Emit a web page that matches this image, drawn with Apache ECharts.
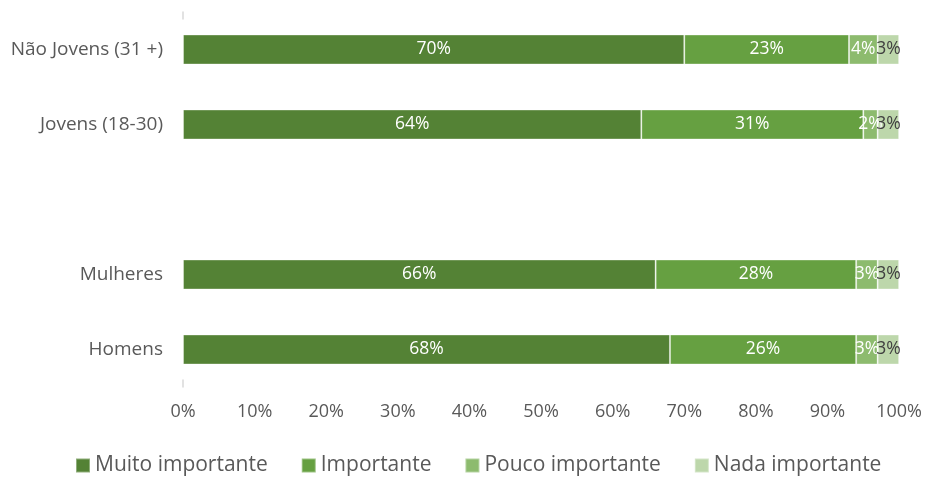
<!DOCTYPE html>
<html>
<head>
<meta charset="utf-8">
<script src="https://cdn.jsdelivr.net/npm/echarts@6/dist/echarts.min.js"></script>
<style>
  html, body { margin: 0; padding: 0; background: #fff; }
  #chart { width: 925px; height: 477px; }
</style>
</head>
<body>
<div id="chart"></div>
<script>
// Groups, bottom to top; the empty entry leaves a gap between the two blocks
const categories = ['Homens', 'Mulheres', '', 'Jovens (18-30)', 'Não Jovens (31 +)'];

const seriesNames = ['Muito importante', 'Importante', 'Pouco importante', 'Nada importante'];
const muitoImportante = [68, 66, null, 64, 70];
const importante      = [26, 28, null, 31, 23];
const poucoImportante = [3, 3, null, 2, 4];
const nadaImportante  = [3, 3, null, 3, 3];

const xTicks = [0, 10, 20, 30, 40, 50, 60, 70, 80, 90, 100];

const colors = ['#548235', '#66A041', '#8DBB6E', '#BDD7AB'];
const labelColors = ['#ffffff', '#ffffff', '#ffffff', '#404040'];
const FONT = '"Open Sans", "Noto Sans", sans-serif';

const values = [muitoImportante, importante, poucoImportante, nadaImportante];

const series = seriesNames.map((name, i) => ({
  name: name,
  type: 'bar',
  stack: 'total',
  barWidth: '40%',
  data: values[i],
  itemStyle: { color: colors[i], borderColor: 'rgba(255,255,255,0.35)', borderWidth: 1 },
  label: {
    show: true,
    position: 'inside',
    formatter: p => (p.value == null ? '' : p.value + '%'),
    color: labelColors[i],
    fontFamily: FONT,
    fontSize: 17.5
  },
  labelLayout: { hideOverlap: false }
}));

const chart = echarts.init(document.getElementById('chart'), null, { renderer: 'canvas' });
chart.setOption({
  animation: false,
  color: colors,
  grid: { left: 183, right: 25, top: 12, height: 375, containLabel: false },
  xAxis: {
    type: 'value',
    min: xTicks[0],
    max: xTicks[xTicks.length - 1],
    interval: 10,
    axisLine: { show: false },
    axisTick: { show: false },
    splitLine: { show: false },
    axisLabel: {
      formatter: v => v + '%',
      color: '#595959',
      fontFamily: FONT,
      fontSize: 18,
      margin: 16
    }
  },
  yAxis: {
    type: 'category',
    data: categories,
    axisLine: {
      show: true,
      // only the two end stubs of the axis line are drawn
      lineStyle: { color: '#D9D9D9', width: 1.5, type: [7, 361] }
    },
    axisTick: { show: false },
    axisLabel: {
      interval: 0,
      color: '#595959',
      fontFamily: FONT,
      fontSize: 19,
      margin: 20
    }
  },
  legend: {
    data: seriesNames,
    top: 455,
    left: 75,
    padding: 0,
    itemWidth: 14,
    itemHeight: 14,
    itemGap: 33,
    icon: 'rect',
    textStyle: { color: '#595959', fontFamily: FONT, fontSize: 21 }
  },
  series: series
});
</script>
</body>
</html>
